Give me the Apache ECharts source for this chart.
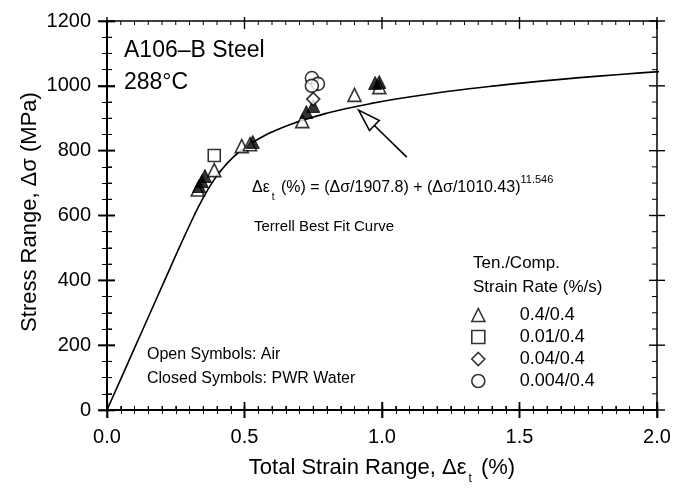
<!DOCTYPE html>
<html>
<head>
<meta charset="utf-8">
<script src="https://cdn.jsdelivr.net/npm/echarts@6/dist/echarts.min.js"></script>
<style>
  html, body { margin: 0; padding: 0; background: #fff; }
  #chart { width: 677px; height: 488px; }
</style>
</head>
<body>
<div id="chart"></div>
<script>
// A106-B steel at 288 °C: cyclic stress range vs. total strain range

const xTickValues = [0.0, 0.5, 1.0, 1.5, 2.0];
const yTickValues = [0, 200, 400, 600, 800, 1000, 1200];

// [total strain range %, stress range MPa]
const airTriangle = [[0.33, 680], [0.39, 740], [0.49, 814], [0.52, 820], [0.71, 891], [0.90, 972], [0.99, 996]];
const pwrTriangle = [[0.335, 691], [0.345, 706], [0.356, 722], [0.53, 827], [0.725, 919], [0.75, 938], [0.975, 1009], [0.99, 1012]];
const airSquare = [[0.39, 785]];
const airDiamond = [[0.75, 959]];
const airCircle = [[0.745, 1024], [0.767, 1006], [0.745, 1000]];

// Terrell best-fit: strain(%) = s/1907.8 + (s/1010.43)^11.546
const fitModulus = 1907.8;
const fitScale = 1010.43;
const fitExponent = 11.546;
const fitStressLevels = [0, 100, 200, 300, 400, 500, 600, 650, 700, 740, 780, 810, 840, 860, 880, 900, 915,
  930, 945, 960, 975, 990, 1000, 1010, 1020, 1030, 1040, 1050];

const legendNames = ['0.4/0.4', '0.01/0.4', '0.04/0.4', '0.004/0.4'];

const fitCurve = fitStressLevels.map(s => [s / fitModulus + Math.pow(s / fitScale, fitExponent), s]);

const FONT = '"Liberation Sans", Arial, Helvetica, sans-serif';
const INK = '#000';
const X_MIN = xTickValues[0], X_MAX = xTickValues[xTickValues.length - 1];
const Y_MIN = yTickValues[0], Y_MAX = yTickValues[yTickValues.length - 1];
const X_MINOR_SPLIT = 10, Y_MINOR_SPLIT = 4;

const chart = echarts.init(document.getElementById('chart'));

function xAxisOf(grid, position, inside, len, minor, labels) {
  return {
    gridIndex: grid, position: position,
    type: 'value', min: X_MIN, max: X_MAX, interval: 0.5,
    axisLine: { show: true, lineStyle: { color: INK, width: 1.5 } },
    splitLine: { show: false },
    axisTick: { show: true, inside: inside, length: len, lineStyle: { color: INK, width: 1.4 } },
    minorTick: { show: minor, splitNumber: X_MINOR_SPLIT, length: 4, lineStyle: { color: INK, width: 1 } },
    axisLabel: { show: labels, margin: 17, color: INK, fontFamily: FONT, fontSize: 20,
      formatter: v => v.toFixed(1) }
  };
}
function yAxisOf(grid, position, inside, len, minor, labels) {
  return {
    gridIndex: grid, position: position,
    type: 'value', min: Y_MIN, max: Y_MAX, interval: 200,
    axisLine: { show: true, lineStyle: { color: INK, width: 1.5 } },
    splitLine: { show: false },
    axisTick: { show: true, inside: inside, length: len, lineStyle: { color: INK, width: 1.4 } },
    minorTick: { show: minor, splitNumber: Y_MINOR_SPLIT, length: 5, lineStyle: { color: INK, width: 1 } },
    axisLabel: { show: labels, margin: 16, color: INK, fontFamily: FONT, fontSize: 20,
      formatter: v => String(v) }
  };
}

const openStyle = { color: '#fff', borderColor: INK, borderWidth: 1.6 };
const closedStyle = { color: INK, borderColor: INK, borderWidth: 1 };

const textGraphics = [
  { type: 'text', left: 124, top: 39, style: { text: 'A106–B Steel', font: '23px ' + FONT, fill: INK } },
  { type: 'text', left: 124, top: 71, style: { text: '288°C', font: '23px ' + FONT, fill: INK } },
  {
    type: 'text', left: 252, top: 174,
    style: {
      text: '{n|Δε}{sub|t}{n| (%) = (Δσ/1907.8) + (Δσ/1010.43)}{sup|11.546}',
      rich: {
        n: { fontFamily: FONT, fontSize: 16, lineHeight: 28, verticalAlign: 'middle', fill: INK },
        sub: { fontFamily: FONT, fontSize: 10, lineHeight: 10, verticalAlign: 'bottom', fill: INK, padding: [0, 2, 0, 2] },
        sup: { fontFamily: FONT, fontSize: 11, lineHeight: 12, verticalAlign: 'top', fill: INK }
      }
    }
  },
  { type: 'text', left: 254, top: 219, style: { text: 'Terrell Best Fit Curve', font: '15px ' + FONT, fill: INK } },
  { type: 'text', left: 473, top: 255, style: { text: 'Ten./Comp.', font: '17px ' + FONT, fill: INK } },
  { type: 'text', left: 473, top: 279, style: { text: 'Strain Rate (%/s)', font: '17px ' + FONT, fill: INK } },
  { type: 'text', left: 147, top: 347, style: { text: 'Open Symbols: Air', font: '16px ' + FONT, fill: INK } },
  { type: 'text', left: 147, top: 371, style: { text: 'Closed Symbols: PWR Water', font: '16px ' + FONT, fill: INK } },
  {
    type: 'text', x: 382, y: 468,
    style: {
      text: '{n|Total Strain Range, Δε}{sub|t}{n| (%)}',
      align: 'center', verticalAlign: 'middle',
      rich: {
        n: { fontFamily: FONT, fontSize: 22, lineHeight: 34, verticalAlign: 'middle', fill: INK },
        sub: { fontFamily: FONT, fontSize: 12, lineHeight: 12, verticalAlign: 'bottom', fill: INK, padding: [0, 3, 0, 2] }
      }
    }
  },
  {
    type: 'text', x: 30, y: 212, rotation: Math.PI / 2,
    style: { text: 'Stress Range, Δσ (MPa)', font: '22px ' + FONT, fill: INK, align: 'center', verticalAlign: 'middle' }
  }
];

const option = {
  backgroundColor: '#fff',
  animation: false,
  // two grids share one frame so the left and bottom ticks cross the frame line
  grid: [
    { left: 107, right: 20, top: 21, bottom: 78 },
    { left: 107, right: 20, top: 21, bottom: 78 }
  ],
  xAxis: [
    xAxisOf(0, 'bottom', false, 8, false, true),
    xAxisOf(0, 'top', true, 8, true, false),
    xAxisOf(1, 'bottom', true, 8, true, false),
    xAxisOf(1, 'top', false, 4, false, false)
  ],
  yAxis: [
    yAxisOf(0, 'left', false, 9, false, true),
    yAxisOf(0, 'right', true, 8, true, false),
    yAxisOf(1, 'left', true, 8, true, false),
    yAxisOf(1, 'right', false, 8, false, false)
  ],
  legend: {
    data: legendNames.map((n, i) => ({ name: n, icon: ['triangle', 'rect', 'diamond', 'circle'][i] })),
    orient: 'vertical',
    left: 466, top: 301,
    itemWidth: 13, itemHeight: 13, itemGap: 4,
    selectedMode: false,
    itemStyle: openStyle,
    formatter: n => '{t|' + n + '}',
    textStyle: {
      color: INK, fontFamily: FONT, fontSize: 18,
      rich: { t: { fontFamily: FONT, fontSize: 18, lineHeight: 18, color: INK, padding: [0, 0, 0, 30] } }
    }
  },
  series: [
    {
      name: 'Terrell fit', type: 'line', data: fitCurve, showSymbol: false, smooth: true,
      xAxisIndex: 0, yAxisIndex: 0,
      lineStyle: { color: INK, width: 1.6 }, z: 1, clip: true
    },
    {
      name: 'annotation arrow', type: 'custom', z: 3, silent: true,
      xAxisIndex: 0, yAxisIndex: 0,
      data: [[1.09, 780, 0.915, 925]],
      renderItem: (params, api) => {
        const tail = api.coord([api.value(0), api.value(1)]);
        const tip = api.coord([api.value(2), api.value(3)]);
        const ang = Math.atan2(tip[1] - tail[1], tip[0] - tail[0]);
        const len = 22, half = 7;
        const bx = tip[0] - len * Math.cos(ang), by = tip[1] - len * Math.sin(ang);
        const px = -Math.sin(ang), py = Math.cos(ang);
        const p1 = [bx + px * half, by + py * half];
        const p2 = [bx - px * half, by - py * half];
        return {
          type: 'group',
          children: [
            { type: 'line', shape: { x1: tail[0], y1: tail[1], x2: bx, y2: by },
              style: { stroke: INK, lineWidth: 1.6 } },
            { type: 'polygon', shape: { points: [tip, p1, p2] },
              style: { fill: '#fff', stroke: INK, lineWidth: 1.6 } }
          ]
        };
      }
    },
    { name: '0.4/0.4', type: 'scatter', data: airTriangle, symbol: 'triangle', symbolSize: 13, itemStyle: openStyle, z: 4 },
    { name: '0.4/0.4 PWR', type: 'scatter', data: pwrTriangle, symbol: 'triangle', symbolSize: 13, itemStyle: closedStyle, z: 5 },
    { name: '0.01/0.4', type: 'scatter', data: airSquare, symbol: 'rect', symbolSize: 12, itemStyle: openStyle, z: 4 },
    { name: '0.04/0.4', type: 'scatter', data: airDiamond, symbol: 'diamond', symbolSize: 13, itemStyle: openStyle, z: 6 },
    { name: '0.004/0.4', type: 'scatter', data: airCircle, symbol: 'circle', symbolSize: 13, itemStyle: openStyle, z: 4 }
  ],
  graphic: textGraphics
};

chart.setOption(option);

// frame edges and tick marks on all four sides, positioned through the grid's scales
function frameTicks() {
  const toPx = (x, y) => chart.convertToPixel({ gridIndex: 0 }, [x, y]);
  const lines = [];
  const seg = (x1, y1, x2, y2, w) => lines.push({
    type: 'line', silent: true, z: 100,
    shape: { x1: x1, y1: y1, x2: x2, y2: y2 },
    style: { stroke: INK, lineWidth: w }
  });
  const xStep = (xTickValues[1] - xTickValues[0]) / X_MINOR_SPLIT;
  const yStep = (yTickValues[1] - yTickValues[0]) / Y_MINOR_SPLIT;
  const bottomY = toPx(X_MIN, Y_MIN)[1], topY = toPx(X_MIN, Y_MAX)[1];
  const leftX = toPx(X_MIN, Y_MIN)[0], rightX = toPx(X_MAX, Y_MIN)[0];

  // the four frame lines
  seg(leftX, topY, rightX, topY, 1.5);
  seg(rightX, topY, rightX, bottomY, 1.5);
  seg(leftX, bottomY, rightX, bottomY, 1.5);
  seg(leftX, topY, leftX, bottomY, 1.5);

  xTickValues.forEach((v, i) => {
    const px = toPx(v, Y_MIN)[0];
    seg(px, bottomY - 8, px, bottomY + 8, 1.4);
    seg(px, topY - 4, px, topY + 8, 1.4);
    if (i < xTickValues.length - 1) {
      for (let k = 1; k < X_MINOR_SPLIT; k++) {
        const qx = toPx(v + k * xStep, Y_MIN)[0];
        seg(qx, bottomY - 4, qx, bottomY, 1);
        seg(qx, topY, qx, topY + 4, 1);
      }
    }
  });
  yTickValues.forEach((v, i) => {
    const py = toPx(X_MIN, v)[1];
    seg(leftX - 9, py, leftX + 8, py, 1.4);
    seg(rightX - 8, py, rightX + 8, py, 1.4);
    if (i < yTickValues.length - 1) {
      for (let k = 1; k < Y_MINOR_SPLIT; k++) {
        const qy = toPx(X_MIN, v + k * yStep)[1];
        seg(leftX, qy, leftX + 5, qy, 1);
        seg(rightX - 5, qy, rightX, qy, 1);
      }
    }
  });
  return lines;
}

chart.setOption({ graphic: textGraphics.concat(frameTicks()) });
</script>
</body>
</html>
